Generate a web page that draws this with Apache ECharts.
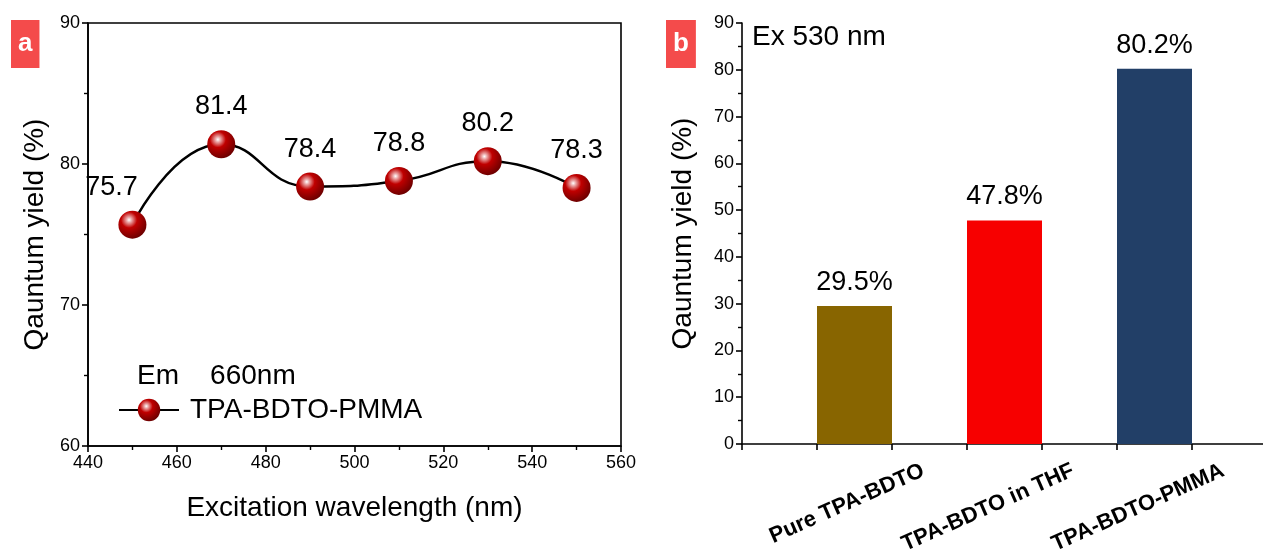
<!DOCTYPE html>
<html><head><meta charset="utf-8">
<script src="https://cdn.jsdelivr.net/npm/echarts@6/dist/echarts.min.js"></script>
<style>html,body{margin:0;padding:0;background:#fff}#c{width:1263px;height:556px}</style>
</head><body><div id="c"></div>
<script>
// Panel a data
const wavelengths = [450, 470, 490, 510, 530, 550];
const qyLine = [75.7, 81.4, 78.4, 78.8, 80.2, 78.3];
const seriesNameA = 'TPA-BDTO-PMMA';
// Panel b data
const barCategories = ['Pure TPA-BDTO', 'TPA-BDTO in THF', 'TPA-BDTO-PMMA'];
const barValues = [29.5, 47.8, 80.2];
const barColors = ['#886500', '#f70000', '#223f67'];

const chart = echarts.init(document.getElementById('c'));
const F = 'Liberation Sans, Arial, sans-serif';

const ball = new echarts.graphic.RadialGradient(0.38, 0.33, 0.68, [
  {offset: 0, color: '#ffffff'},
  {offset: 0.14, color: '#eaa4a4'},
  {offset: 0.42, color: '#c00000'},
  {offset: 1, color: '#6e0000'}
]);

// 7-slot category layout for panel b: bars sit in slots 1,3,5;
// each bar's rotated name is anchored on the slot right after it (Origin-style offset labels)
const slotCats = [' '];
const slotVals = ['-'];
barCategories.forEach((c, i) => {
  slotCats.push(' '.repeat(i + 2));
  slotVals.push({value: barValues[i], itemStyle: {color: barColors[i]}});
  slotCats.push(c);
  slotVals.push('-');
});

const lineData = wavelengths.map((w, i) => {
  const d = {value: [w, qyLine[i]]};
  if (i === 0) d.label = {offset: [-21, 0]};
  return d;
});

const axisLineStyle = {color: '#000', width: 1.6};
const tickLabel = {fontSize: 18, fontFamily: F, color: '#000', margin: 8};
const titleStyle = {fontSize: 28, fontFamily: F, color: '#000'};

chart.setOption({
  animation: false,
  backgroundColor: '#fff',
  title: [
    {text: 'a', left: 11, top: 20, backgroundColor: '#f44b4b', padding: [11, 7, 11, 7],
     textStyle: {color: '#fff', fontWeight: 'bold', fontSize: 26, fontFamily: F, lineHeight: 26}},
    {text: 'b', left: 666, top: 20, backgroundColor: '#f44b4b', padding: [11, 7, 11, 7],
     textStyle: {color: '#fff', fontWeight: 'bold', fontSize: 26, fontFamily: F, lineHeight: 26}},
    {text: 'Em    660nm', left: 137, top: 362, padding: 0,
     textStyle: {color: '#000', fontWeight: 'normal', fontSize: 28, fontFamily: F, lineHeight: 28}},
    {text: 'Ex 530 nm', left: 752, top: 23, padding: 0,
     textStyle: {color: '#000', fontWeight: 'normal', fontSize: 28, fontFamily: F, lineHeight: 28}}
  ],
  legend: {
    data: [seriesNameA], left: 118, top: 396, itemWidth: 60, itemHeight: 28, padding: 0,
    textStyle: {fontSize: 28, fontFamily: F, color: '#000', padding: [0, 0, 0, 6]}
  },
  grid: [
    {left: 88, top: 23, width: 533, height: 423, show: true, borderColor: '#000', borderWidth: 1.6,
     backgroundColor: 'transparent', outerBoundsMode: 'none', containLabel: false},
    {left: 742, top: 23, width: 525, height: 421, outerBoundsMode: 'none', containLabel: false}
  ],
  xAxis: [
    {type: 'value', gridIndex: 0, min: 440, max: 560, interval: 20,
     name: 'Excitation wavelength (nm)', nameLocation: 'middle', nameGap: 48,
     nameTextStyle: titleStyle,
     axisLine: {lineStyle: axisLineStyle}, axisTick: {show: true, length: 6, lineStyle: axisLineStyle},
     minorTick: {show: true, splitNumber: 2, length: 4, lineStyle: {color: '#000', width: 1.4}},
     splitLine: {show: false},
     axisLabel: tickLabel},
    {type: 'category', gridIndex: 1, data: slotCats, boundaryGap: true,
     axisLine: {lineStyle: axisLineStyle}, axisTick: {show: true, length: 6, lineStyle: axisLineStyle},
     axisLabel: {interval: 0, rotate: 24, margin: 23, padding: [0, 7, 0, 0],
       fontSize: 22, fontWeight: 'bold', fontFamily: F, color: '#000'}}
  ],
  yAxis: [
    {type: 'value', gridIndex: 0, min: 60, max: 90, interval: 10,
     name: 'Qauntum yield (%)', nameLocation: 'middle', nameGap: 39,
     nameTextStyle: titleStyle,
     axisLine: {lineStyle: axisLineStyle}, axisTick: {show: true, length: 6, lineStyle: axisLineStyle},
     minorTick: {show: true, splitNumber: 2, length: 4, lineStyle: {color: '#000', width: 1.4}},
     splitLine: {show: false},
     axisLabel: tickLabel},
    {type: 'value', gridIndex: 1, min: 0, max: 90, interval: 10,
     name: 'Qauntum yield (%)', nameLocation: 'middle', nameGap: 45,
     nameTextStyle: titleStyle,
     axisLine: {show: true, lineStyle: axisLineStyle}, axisTick: {show: true, length: 6, lineStyle: axisLineStyle},
     minorTick: {show: true, splitNumber: 2, length: 4, lineStyle: {color: '#000', width: 1.4}},
     splitLine: {show: false},
     axisLabel: tickLabel}
  ],
  series: [
    {name: seriesNameA, type: 'line', xAxisIndex: 0, yAxisIndex: 0, data: lineData,
     smooth: 0.5, symbol: 'circle', symbolSize: 28,
     lineStyle: {color: '#000', width: 2.5},
     itemStyle: {color: ball, borderWidth: 0},
     label: {show: true, position: 'top', distance: 10, fontSize: 27, fontFamily: F, color: '#000'},
     z: 3},
    {type: 'bar', xAxisIndex: 1, yAxisIndex: 1, data: slotVals, barWidth: '100%',
     label: {show: true, position: 'top', distance: 10, fontSize: 27, fontFamily: F, color: '#000',
       formatter: p => p.value + '%'}}
  ]
});
</script></body></html>
